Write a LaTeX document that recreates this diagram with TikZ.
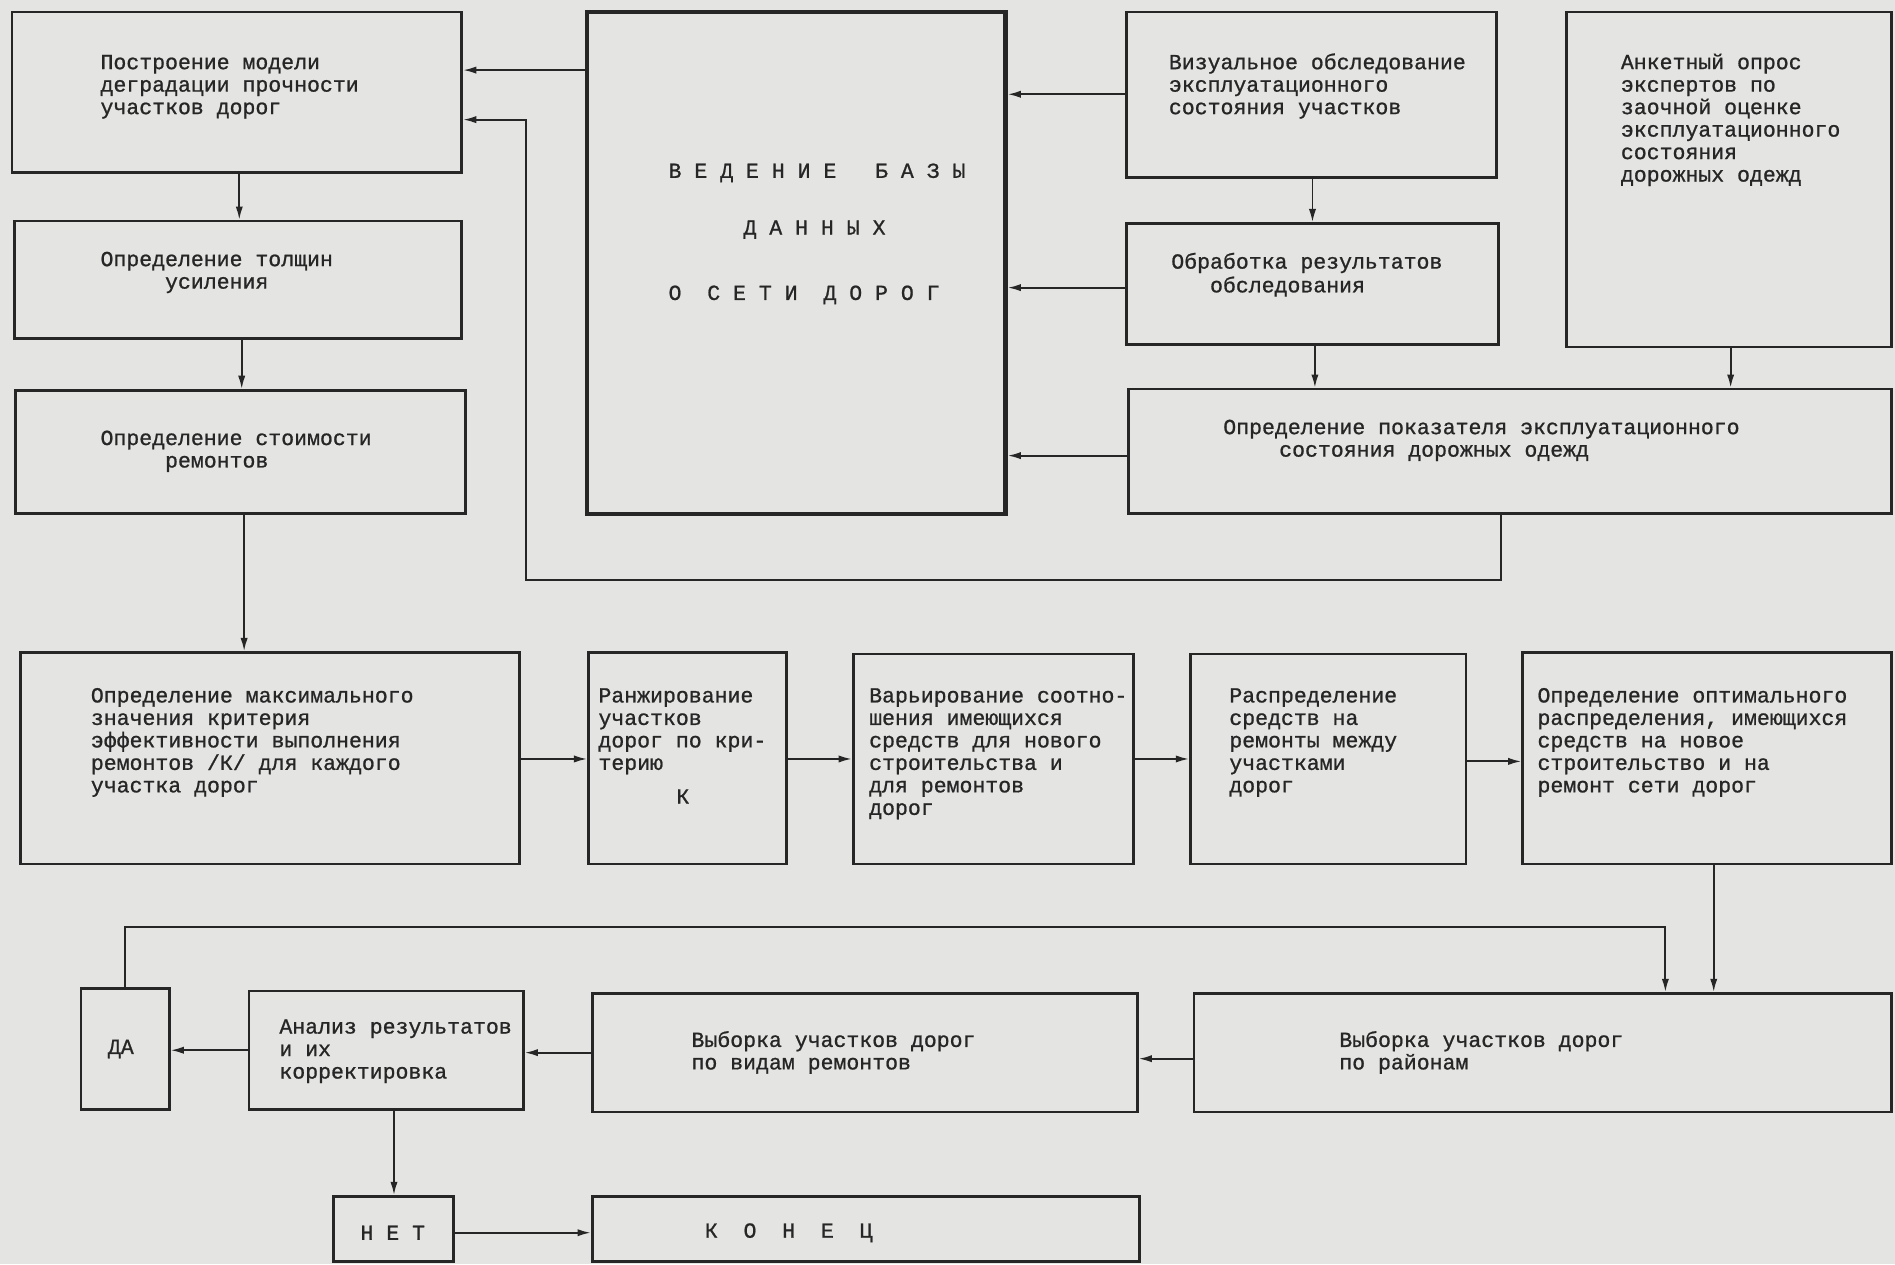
\documentclass[tikz,border=0pt]{standalone}
\usepackage{fontspec}
\newfontfamily\tw{Liberation Mono}[FakeBold=0.9]
\usetikzlibrary{arrows.meta,fit}
\definecolor{bg}{RGB}{228,228,226}
\definecolor{ink}{RGB}{38,38,38}
\tikzset{
  box/.style={draw=ink, line width=2.2pt, inner sep=0pt, fill=none},
  dbbox/.style={draw=ink, line width=3.4pt, inner sep=0pt},
  txt/.style={anchor=north west, inner sep=0pt, align=left, text=ink,
    font=\tw\fontsize{17.8}{18.6}\selectfont},
  stxt/.style={inner sep=0pt, text=ink, font=\tw\fontsize{17.8}{18.6}\selectfont},
  arr/.style={draw=ink, line width=1.6pt, -{Latex[length=11pt,width=6pt]}},
  ln/.style={draw=ink, line width=1.6pt}
}
\begin{document}
\begin{tikzpicture}[x=1pt,y=-1pt]
\fill[bg] (0,0) rectangle (1568,1046);
\useasboundingbox (0,0) rectangle (1568,1046);

% ---- boxes ----
\node[box, fit={(10,10)(382,143)}] (b1) {};
\node[box, fit={(12,183)(382,280)}] (b2) {};
\node[box, fit={(13,323)(385,425)}] (b3) {};
\node[dbbox, fit={(486,10)(832,425)}] (db) {};
\node[box, fit={(932,10)(1238,147)}] (b4) {};
\node[box, fit={(932,185)(1240,285)}] (b5) {};
\node[box, fit={(1296,10)(1565,287)}] (b6) {};
\node[box, fit={(934,322)(1565,425)}] (b7) {};

\node[box, fit={(17,540)(430,715)}] (b8) {};
\node[box, fit={(487,540)(651,715)}] (b9) {};
\node[box, fit={(706,541)(938,715)}] (b10) {};
\node[box, fit={(985,541)(1213,715)}] (b11) {};
\node[box, fit={(1260,540)(1565,715)}] (b12) {};

\node[box, fit={(67,818)(140,918)}] (da) {};
\node[box, fit={(206,820)(433,918)}] (b15) {};
\node[box, fit={(490,822)(941,920)}] (b14) {};
\node[box, fit={(988,822)(1565,920)}] (b13) {};
\node[box, fit={(276,990)(375,1044)}] (net) {};
\node[box, fit={(490,990)(943,1044)}] (kon) {};

% ---- texts ----
\node[txt] (t1) at (83,44) {\strut Построение модели\\деградации прочности\\участков дорог};
\node[txt] (t2) at (83,207) {\strut Определение толщин\\\hspace*{3em}усиления};
\node[txt] (t3) at (83,355) {\strut Определение стоимости\\\hspace*{3em}ремонтов};
\node[stxt, anchor=west] (tdb1) at (553,143) {В Е Д Е Н И Е\ \ \ Б А З Ы};
\node[stxt, anchor=west] (tdb2) at (615,190) {Д А Н Н Ы Х};
\node[stxt, anchor=west] (tdb3) at (553,244) {О\ \ С Е Т И\ \ Д О Р О Г};
\node[txt] (t4) at (967,44) {\strut Визуальное обследование\\эксплуатационного\\состояния участков};
\node[txt] (t5) at (969,209) {\strut Обработка результатов\\\hspace*{1.8em}обследования};
\node[txt] (t6) at (1341,44) {\strut Анкетный опрос\\экспертов по\\заочной оценке\\эксплуатационного\\состояния\\дорожных одежд};
\node[txt] (t7) at (1012,346) {\strut Определение показателя эксплуатационного\\\hspace*{2.6em}состояния дорожных одежд};

\node[txt] (t8) at (75,568) {\strut Определение максимального\\значения критерия\\эффективности выполнения\\ремонтов /К/ для каждого\\участка дорог};
\node[txt] (t9) at (495,568) {\strut Ранжирование\\участков\\дорог по кри-\\терию};
\node[stxt] (tk) at (565,659) {К};
\node[txt] (t10) at (719,568) {\strut Варьирование соотно-\\шения имеющихся\\средств для нового\\строительства и\\для ремонтов\\дорог};
\node[txt] (t11) at (1017,568) {\strut Распределение\\средств на\\ремонты между\\участками\\дорог};
\node[txt] (t12) at (1272,568) {\strut Определение оптимального\\распределения, имеющихся\\средств на новое\\строительство и на\\ремонт сети дорог};

\node[stxt] (tda) at (100,868) {ДА};
\node[txt] (t15) at (231,842) {\strut Анализ результатов\\и их\\корректировка};
\node[txt] (t14) at (572,853) {\strut Выборка участков дорог\\по видам ремонтов};
\node[txt] (t13) at (1108,853) {\strut Выборка участков дорог\\по районам};
\node[stxt] (tnet) at (325,1020) {Н Е Т};
\node[stxt, anchor=west] (tkon) at (583,1020) {К\ \ О\ \ Н\ \ Е\ \ Ц};

% ---- connectors ----
\draw[arr] (db.west |- 0,58) -- (b1.east |- 0,58);
\draw[arr] (b7.south -| 1242,0) -- (1242,480) -- (435,480) -- (435,99) -- (b1.east |- 0,99);
\draw[arr] (b1.south -| 198,0) -- (b2.north -| 198,0);
\draw[arr] (b2.south -| 200,0) -- (b3.north -| 200,0);
\draw[arr] (b3.south -| 202,0) -- (b8.north -| 202,0);

\draw[arr] (b4.west |- 0,78) -- (db.east |- 0,78);
\draw[arr] (b5.west |- 0,238) -- (db.east |- 0,238);
\draw[arr] (b7.west |- 0,377) -- (db.east |- 0,377);
\draw[arr] (b4.south -| 1086,0) -- (b5.north -| 1086,0);
\draw[arr] (b5.south -| 1088,0) -- (b7.north -| 1088,0);
\draw[arr] (b6.south -| 1432,0) -- (b7.north -| 1432,0);

\draw[arr] (b8.east |- 0,628) -- (b9.west |- 0,628);
\draw[arr] (b9.east |- 0,628) -- (b10.west |- 0,628);
\draw[arr] (b10.east |- 0,628) -- (b11.west |- 0,628);
\draw[arr] (b11.east |- 0,630) -- (b12.west |- 0,630);

\draw[arr] (b12.south -| 1418,0) -- (b13.north -| 1418,0);
\draw[arr] (da.north) -- (da.north |- 0,767) -- (1378,767) -- (b13.north -| 1378,0);
\draw[arr] (b13.west |- 0,876) -- (b14.east |- 0,876);
\draw[arr] (b14.west |- 0,871) -- (b15.east |- 0,871);
\draw[arr] (b15.west |- 0,869) -- (da.east |- 0,869);
\draw[arr] (b15.south -| 326,0) -- (net.north -| 326,0);
\draw[arr] (net.east |- 0,1020) -- (kon.west |- 0,1020);
\end{tikzpicture}
\end{document}
